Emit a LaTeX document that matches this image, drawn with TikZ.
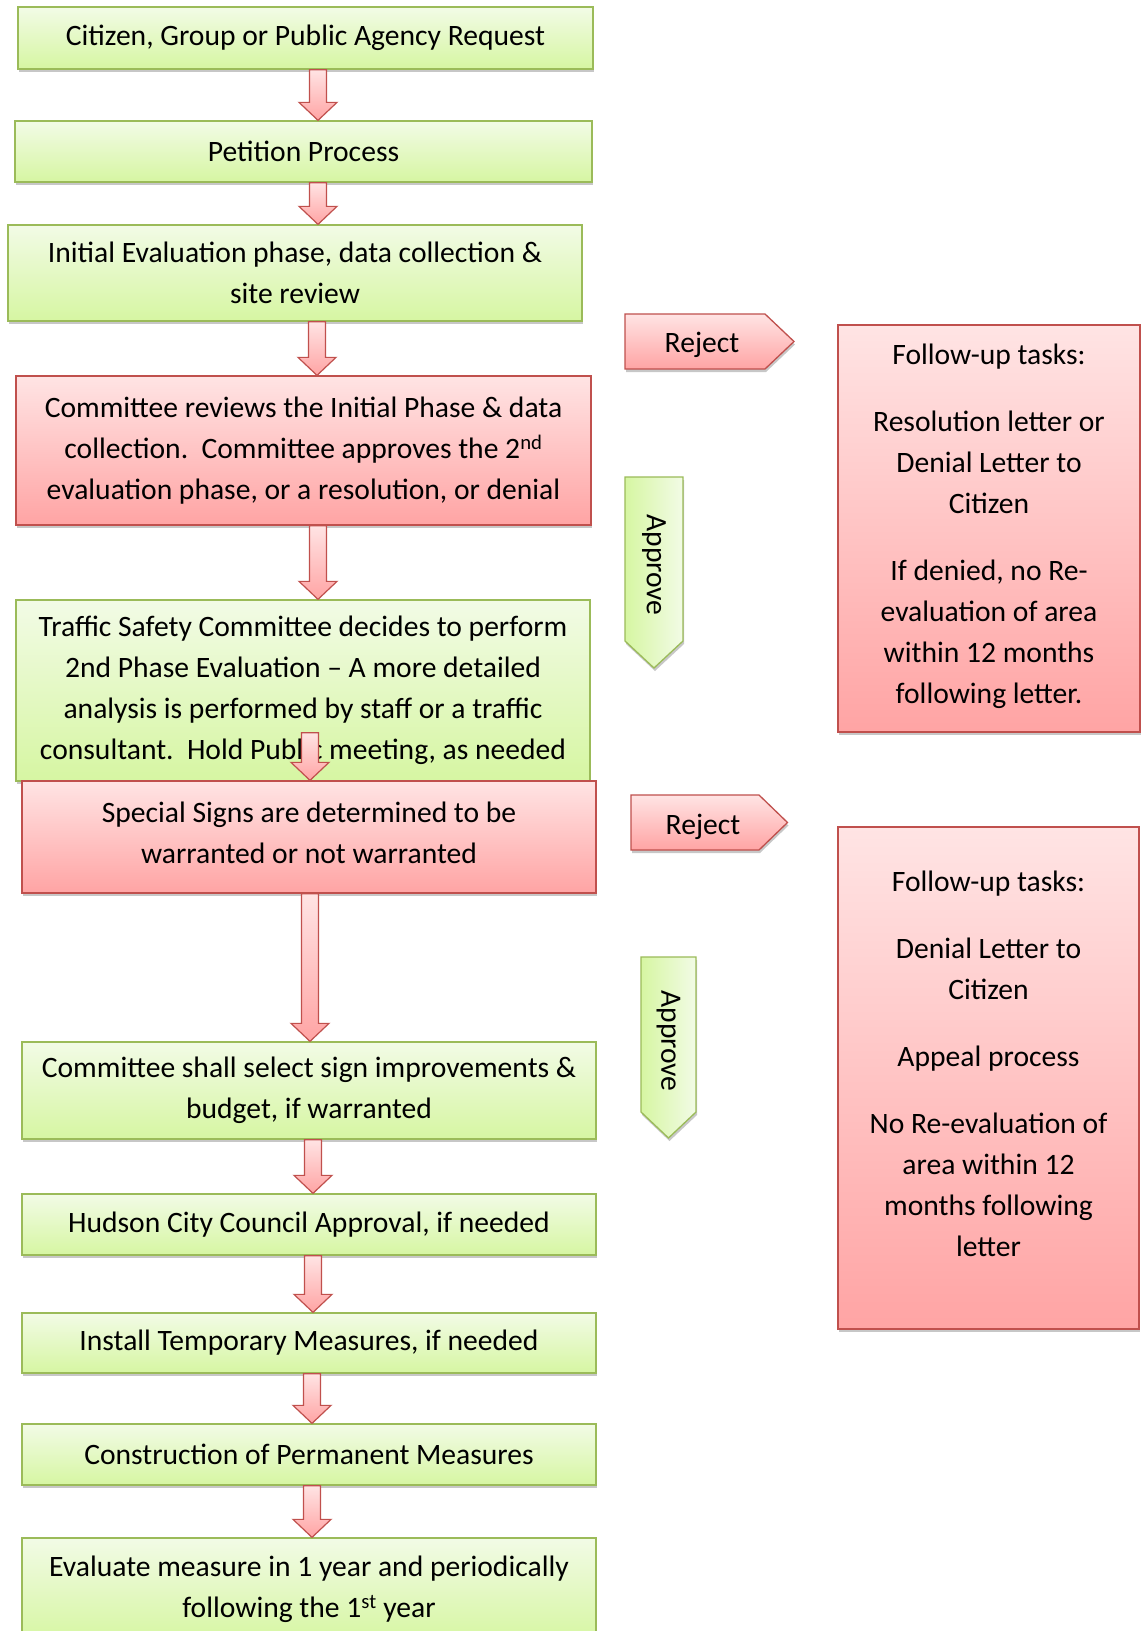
\documentclass[tikz,border=0pt]{standalone}
\usepackage{fontspec}
\setmainfont{Carlito}
\usetikzlibrary{shadows,calc}
\definecolor{gtop}{RGB}{242,251,230}
\definecolor{gbot}{RGB}{214,246,162}
\definecolor{gline}{RGB}{155,187,89}
\definecolor{rtop}{RGB}{255,228,228}
\definecolor{rbot}{RGB}{255,164,164}
\definecolor{rline}{RGB}{192,80,77}
\newcommand\blockdown[4]{%
  \path[blockarrow] let \p1=(#1.south), \p2=(#2.north) in
  (#3pt-8.5pt,\y1+#4pt) -- (#3pt+8.5pt,\y1+#4pt) -- (#3pt+8.5pt,\y2+18pt) --
  (#3pt+19pt,\y2+18pt) -- (#3pt,\y2) -- (#3pt-19pt,\y2+18pt) --
  (#3pt-8.5pt,\y2+18pt) -- cycle;}
\tikzset{
  shad/.style={drop shadow={shadow xshift=1pt, shadow yshift=-3pt, opacity=0.22, fill=black}},
  base/.style={draw, line width=1.3pt, inner sep=0pt, align=center,
    font=\fontsize{29.6}{41}\selectfont, shad},
  gbox/.style={base, draw=gline, top color=gtop, bottom color=gbot},
  rbox/.style={base, draw=rline, top color=rtop, bottom color=rbot},
  txt/.style={align=center, inner sep=0pt, font=\fontsize{29.6}{41}\selectfont},
  blockarrow/.style={draw=rline, line width=1.2pt, line join=miter, top color=rtop, bottom color=rbot},
  rejshape/.style={draw=rline, line width=1.3pt, line join=miter, top color=rtop, bottom color=rbot, shad},
  appshape/.style={draw=gline, line width=1.3pt, line join=miter, left color=gbot, right color=gtop, shad}
}
\begin{document}
\begin{tikzpicture}[x=1pt, y=-1pt]
\useasboundingbox (0,0) rectangle (1144,1631);
\fill[white] (0,0) rectangle (1144,1631);

% left column
\node[gbox, minimum width=575, minimum height=62] (b1) at (305.5,38) {Citizen, Group or Public Agency Request};
\node[gbox, minimum width=577, minimum height=61] (b2) at (303.5,151.5) {Petition Process};
\node[gbox, minimum width=574, minimum height=96] (b3) at (295,273) {Initial Evaluation phase, data collection \&\\site review};
\node[rbox, minimum width=575, minimum height=149] (b4) at (303.5,450.5) {Committee reviews the Initial Phase \& data\\collection.\ \ Committee approves the 2\textsuperscript{nd}\\evaluation phase, or a resolution, or denial};
\node[gbox, minimum width=574, minimum height=181] (b5) at (303,690.5) {Traffic Safety Committee decides to perform\\2nd Phase Evaluation -- A more detailed\\analysis is performed by staff or a traffic\\consultant.\ \ Hold Public meeting, as needed};
\node[rbox, minimum width=574, minimum height=112] (b6) at (309,837) {Special Signs are determined to be\\warranted or not warranted\\[-32pt]};
\node[gbox, minimum width=574, minimum height=97] (b7) at (309,1090.5) {Committee shall select sign improvements \&\\budget, if warranted};
\node[gbox, minimum width=574, minimum height=61] (b8) at (309,1224.5) {Hudson City Council Approval, if needed};
\node[gbox, minimum width=574, minimum height=60] (b9) at (309,1343) {Install Temporary Measures, if needed};
\node[gbox, minimum width=574, minimum height=61] (b10) at (309,1454.5) {Construction of Permanent Measures};
\node[gbox, minimum width=574, minimum height=103] (b11) at (309,1589.5) {Evaluate measure in 1 year and periodically\\following the 1\textsuperscript{st} year};

% block arrows
\blockdown{b1}{b2}{318}{0}
\blockdown{b2}{b3}{318}{0}
\blockdown{b3}{b4}{317}{0}
\blockdown{b4}{b5}{318}{0}
\blockdown{b5}{b6}{310}{49}
\blockdown{b6}{b7}{310}{0}
\blockdown{b7}{b8}{313}{0}
\blockdown{b8}{b9}{313}{0}
\blockdown{b9}{b10}{312}{0}
\blockdown{b10}{b11}{312}{0}

% reject / approve markers
\path[rejshape] (625,314) -- (765,314) -- (794,341.5) -- (765,369) -- (625,369) -- cycle;
\node[txt] (rej1) at (702,345) {Reject};
\path[appshape] (625,477) -- (683,477) -- (683,641) -- (654,668) -- (625,641) -- cycle;
\node[txt, rotate=-90] (app1) at (654,565) {Approve};

\path[rejshape] (631,795) -- (759,795) -- (787.5,822.5) -- (759,850) -- (631,850) -- cycle;
\node[txt] (rej2) at (703,826.5) {Reject};
\path[appshape] (641,957) -- (696,957) -- (696,1112) -- (668.5,1138) -- (641,1112) -- cycle;
\node[txt, rotate=-90] (app2) at (668.5,1041) {Approve};

% follow-up boxes
\node[rbox, minimum width=302, minimum height=407] (r1) at (989,528.5) {};
\node[txt] (r1t) at (989,526.5) {Follow-up tasks:\\[26pt]Resolution letter or\\Denial Letter to\\Citizen\\[26pt]If denied, no Re-\\evaluation of area\\within 12 months\\following letter.};
\node[rbox, minimum width=301, minimum height=502] (r2) at (988.5,1078) {};
\node[txt] (r2t) at (988.5,1063.5) {Follow-up tasks:\\[26pt]Denial Letter to\\Citizen\\[26pt]Appeal process\\[26pt]No Re-evaluation of\\area within 12\\months following\\letter};
\end{tikzpicture}
\end{document}
